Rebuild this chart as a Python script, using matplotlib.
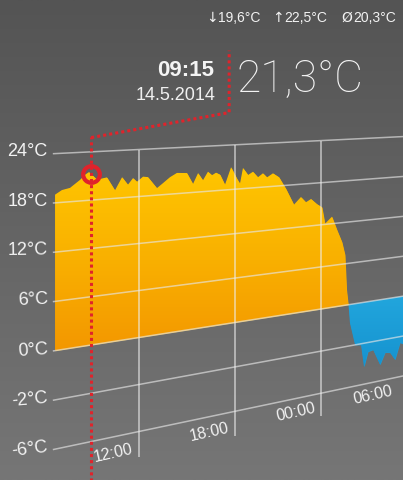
import numpy as np
import matplotlib
matplotlib.use("Agg")
import matplotlib.pyplot as plt
from matplotlib.transforms import Transform, offset_copy
from matplotlib.colors import LinearSegmentedColormap

plt.rcParams["font.family"] = ["Liberation Sans", "DejaVu Sans"]

# hours since midnight of 14.5.2014, temperature in °C
hours = [7.27, 7.64, 8.08, 8.63, 8.91, 9.13, 9.58, 10.14, 10.6, 11.01, 11.35, 11.65, 11.88,
         12.24, 12.53, 13.07, 13.44, 13.86, 14.29, 14.91, 15.29, 15.61, 15.92, 16.24, 16.5,
         16.76, 17.02, 17.34, 17.74, 18.13, 18.33, 18.53, 18.87, 19.2, 19.54, 19.88, 20.16,
         20.57, 20.99, 21.48, 22.04, 22.54, 22.9, 23.27, 23.7, 24.07, 24.29, 24.81, 25.19,
         25.56, 25.79, 25.91, 26.02, 26.17, 26.56, 27.02, 27.25, 27.56, 27.96, 28.51, 28.91,
         29.31, 29.71, 30.12, 30.53]
temps = [19.0, 19.5, 19.7, 20.6, 21.2, 21.5, 20.5, 20.7, 19.0, 20.6, 19.6, 20.4, 19.9, 20.5,
         20.4, 18.9, 19.5, 20.2, 20.7, 20.6, 19.1, 20.5, 19.5, 20.6, 20.1, 20.4, 20.1, 18.7,
         21.0, 19.4, 18.7, 20.8, 19.8, 20.2, 19.4, 19.9, 19.3, 19.8, 19.2, 17.5, 15.2, 16.2,
         15.4, 15.8, 15.0, 14.5, 12.1, 13.0, 11.0, 9.2, 7.3, 2.2, 0.3, -0.9, -2.0, -2.1, -4.3,
         -2.9, -2.8, -4.4, -3.3, -3.4, -4.2, -2.6, -2.9]

tick_temps = [-6, -2, 0, 6, 12, 18, 24]
tick_levels = [-2, -1, 0, 1, 2, 3, 4]
time_ticks = [12, 18, 24, 30]
time_labels = ["12:00", "18:00", "00:00", "06:00"]

cursor_hour, cursor_temp = 9.25, 21.3
cursor_time, cursor_date = "09:15", "14.5.2014"
stat_marks = ["\u2193", "\u2191", "Ø"]
stat_values = ["19,6°C", "22,5°C", "20,3°C"]

# perspective of the chart plane (pixels)
K, SX, X0, SY, SL, Y0 = 0.00969, 18.28, 139.0, 0.62, -47.0, 337.5
W, H = 403, 480


def to_level(t):
    t = np.asarray(t, float)
    lv = np.interp(t, tick_temps, tick_levels)
    lv = np.where(t < -6, -2 + (t + 6) / 4, lv)
    return np.where(t > 24, 4 + (t - 24) / 6, lv)


class Tilt(Transform):
    input_dims = output_dims = 2
    is_separable = False

    def transform_non_affine(self, values):
        values = np.asarray(values, float).reshape(-1, 2)
        h = values[:, 0] - 12
        w = 1 + K * h
        return np.column_stack([(SX * h + X0) / w,
                                (SY * h + SL * to_level(values[:, 1]) + Y0) / w])


fig = plt.figure(figsize=(W / 100, H / 100), dpi=100)
ax = fig.add_axes([0, 0, 1, 1])
ax.set_xlim(0, W)
ax.set_ylim(H, 0)
ax.set_autoscale_on(False)
ax.axis("off")
tr = Tilt() + ax.transData
pix = Tilt()  # data -> pixel (from top-left)

grad = np.linspace(0, 1, 256).reshape(-1, 1)
bg = LinearSegmentedColormap.from_list("bg", ["#545454", "#767676"])
ax.imshow(grad, cmap=bg, extent=[0, W, H, 0], aspect="auto", zorder=0)

hrs = np.array(hours)
tmp = np.array(temps)
warm = ax.fill_between(hrs, tmp, 0, where=tmp >= 0, interpolate=True, transform=tr,
                       color="#f8b000", lw=0, zorder=1)
cold = ax.fill_between(hrs, tmp, 0, where=tmp <= 0, interpolate=True, transform=tr,
                       color="#1b9dd6", lw=0, zorder=1)
warm_cm = LinearSegmentedColormap.from_list("warm", ["#ffc600", "#f9b000", "#f39600"])
img = ax.imshow(grad, cmap=warm_cm, extent=[0, W, 355, 165], aspect="auto", zorder=1.5)
img.set_clip_path(warm.get_paths()[0], transform=warm.get_transform())
cold_cm = LinearSegmentedColormap.from_list("cold", ["#22a6dd", "#1592cf"])
img2 = ax.imshow(grad, cmap=cold_cm, extent=[0, W, 370, 295], aspect="auto", zorder=1.5)
img2.set_clip_path(cold.get_paths()[0], transform=cold.get_transform())

# grid
h_left, h_right = 7.15, 33
for tt in tick_temps:
    ax.plot([h_left, h_right], [tt, tt], transform=tr, color="#e6e6e6", alpha=0.65,
            lw=1.1, zorder=2, solid_capstyle="butt")
for hh in time_ticks[:3]:
    ax.plot([hh, hh], [24, -8.2], transform=tr, color="#eeeeee", alpha=0.7,
            lw=1.1, zorder=2, solid_capstyle="butt")


def slope_deg(a, b):
    p0, p1 = pix.transform(a), pix.transform(b)
    return np.degrees(np.arctan2(p0[1] - p1[1], p1[0] - p0[0]))


# y labels
for tt in tick_temps:
    ang = slope_deg((h_left, tt), (h_left + 3, tt))
    ax.text(h_left, tt, f"{tt}°C", transform=offset_copy(tr, fig, x=-5, y=2, units="dots"),
            ha="right", va="center", fontsize=13, color="#f2f2f2",
            rotation=max(0, ang - 5), rotation_mode="anchor", zorder=3)

# x labels
for hh, lab in zip(time_ticks, time_labels):
    ang = slope_deg((hh - 2, -8.2), (hh, -8.2))
    ax.text(hh, -8.2, lab, transform=offset_copy(tr, fig, x=-5, y=4, units="dots"),
            ha="right", va="baseline", fontsize=11.5, color="#f2f2f2",
            rotation=ang, rotation_mode="anchor", zorder=3)

# cursor
red = "#e0232b"
px, py = pix.transform((cursor_hour, cursor_temp))
ax.plot([cursor_hour, cursor_hour], [-10, 25.9], transform=tr, color=red, lw=2.2,
        ls=(0, (1, 1)), zorder=4)
lead_x = [px, px + 138, px + 138]
lead_y = [py - 36, py - 61, py - 123]
ax.plot(lead_x, lead_y, color=red, lw=2.2, ls=(0, (1, 1)), zorder=4)
ax.plot([cursor_hour], [cursor_temp], transform=tr, marker="o", ms=12, mfc="none",
        mec=red, mew=3, zorder=5)

ax.text(px + 123, py - 103, cursor_time, ha="right", va="center", fontsize=16,
        fontweight="bold", color="#f4f4f4")
ax.text(px + 124, py - 78, cursor_date, ha="right", va="center", fontsize=13,
        color="#f0f0f0")
ax.text(px + 145, py - 94, f"{cursor_temp:.1f}°C".replace(".", ","), ha="left",
        va="center", fontsize=32, color="#f4f4f4", family=["Roboto", "DejaVu Sans"],
        fontweight="light")

for x, m, s in zip([206, 272, 341], stat_marks, stat_values):
    ax.text(x, 18, m, ha="left", va="center", fontsize=10, color="#f2f2f2",
            family=["DejaVu Sans"])
    ax.text(x + 12, 18, s, ha="left", va="center", fontsize=10, color="#f2f2f2")

fig.savefig("out.png", dpi=100)
